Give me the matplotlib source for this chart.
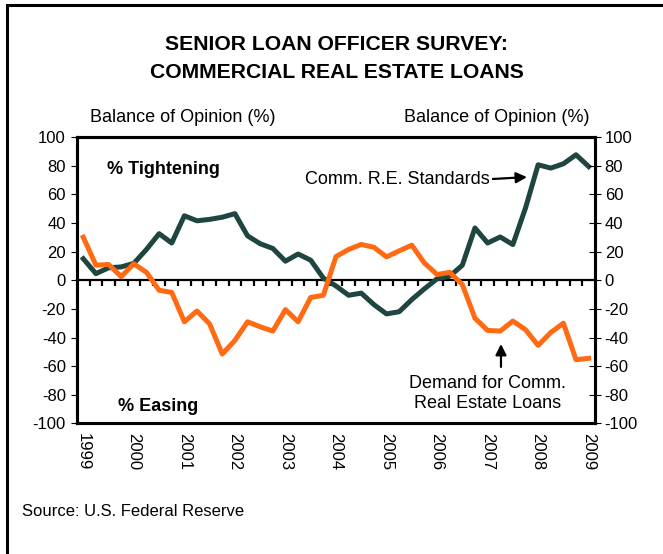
import matplotlib
matplotlib.use("Agg")
import matplotlib.pyplot as plt
import numpy as np
from matplotlib.patches import Rectangle

plt.rcParams['font.family'] = ['Liberation Sans', 'DejaVu Sans']
plt.rcParams['axes.unicode_minus'] = False

# --- datos (trimestrales, 1999 T1 - 2009 T1) ---
standards = [15, 4.6, 8.7, 9.3, 11.8, 21.5, 32.5, 26, 45, 41.5,
             42.5, 44, 46.5, 31, 25.5, 22.2, 13.3, 18.3, 14, 1.5,
             -4, -10.5, -9, -17, -23.5, -22, -13.5, -6, 1, 2.8,
             10.5, 36.5, 26, 30.2, 24.9, 50.4, 80.6, 78.3, 81.3, 87.6,
             79.4]
demand = [30, 10.5, 11, 2.5, 11.5, 5.5, -7, -8.5, -29, -21.5,
          -30.5, -51.5, -42, -29, -32.5, -35.5, -20.5, -29, -12, -10.5,
          16.5, 21.5, 25, 23, 16.3, 20.5, 24.5, 12, 4, 5.5,
          -3, -26.5, -35, -35.5, -28.5, -34.5, -45.5, -36.5, -30, -55.5,
          -54.5]
years = list(range(1999, 2010))
yticks = list(range(-100, 101, 20))

green = '#1f4540'
orange = '#ff6a13'

x = 1999 + np.arange(len(standards)) / 4.0

fig = plt.figure(figsize=(6.63, 5.54), dpi=100)
ax = fig.add_axes([0.1161, 0.2356, 0.7813, 0.5171])

ax.plot(x, standards, color=green, lw=3.6, zorder=3)
ax.plot(x, demand, color=orange, lw=3.6, zorder=4)

ax.set_xlim(1999 - 0.125, 2009 + 0.125)
ax.set_ylim(-100, 100)

for s in ax.spines.values():
    s.set_linewidth(2.2)

ax.set_yticks(yticks)
ax.tick_params(axis='y', labelsize=12, width=0.8, length=4, pad=4,
               direction='out')

# eje derecho (mismas escalas)
ax2 = ax.twinx()
ax2.set_ylim(-100, 100)
ax2.set_yticks(yticks)
ax2.tick_params(axis='y', labelsize=12, width=0.8, length=8, pad=3,
                direction='inout')
for s in ax2.spines.values():
    s.set_linewidth(2.2)

ax.set_xticks(years)
ax.set_xticklabels([str(y) for y in years], rotation=270, fontsize=12,
                   va='top', ha='center')
ax.tick_params(axis='x', length=0, pad=7)

# linea de cero con marcas trimestrales
sec = ax.secondary_xaxis(0.5)
sec.spines['top'].set_linewidth(1.6)
sec.set_xticks(1999.125 + np.arange(len(standards) - 1) / 4.0)
sec.tick_params(axis='x', direction='in', length=4, width=1.6,
                labeltop=False, labelbottom=False)

# textos
ax.text(0.058, 0.885, '% Tightening', transform=ax.transAxes, fontsize=13,
        fontweight='bold', ha='left', va='center')
ax.text(0.079, 0.061, '% Easing', transform=ax.transAxes, fontsize=13,
        fontweight='bold', ha='left', va='center')

ax.annotate('Comm. R.E. Standards', xy=(2007.78, 72), xytext=(2007.05, 70),
            fontsize=13, ha='right', va='center',
            arrowprops=dict(arrowstyle='-|>', color='black', lw=1.6,
                            mutation_scale=16, shrinkA=0, shrinkB=0,
                            relpos=(1, 0.55)))
ax.annotate('', xy=(2007.265, -44.5), xytext=(2007.265, -60.5),
            arrowprops=dict(arrowstyle='-|>', color='black', lw=1.6,
                            mutation_scale=16, shrinkA=0, shrinkB=0))
ax.text(2006.99, -79, 'Demand for Comm.\nReal Estate Loans', fontsize=13,
        ha='center', va='center', multialignment='center', linespacing=1.25)

fig.text(0.508, 1 - 45 / 554, 'SENIOR LOAN OFFICER SURVEY:', fontsize=15.2,
         fontweight='bold', ha='center', va='center')
fig.text(0.508, 1 - 72 / 554, 'COMMERCIAL REAL ESTATE LOANS', fontsize=15.2,
         fontweight='bold', ha='center', va='center')
fig.text(90 / 663, 1 - 117 / 554, 'Balance of Opinion (%)', fontsize=13,
         ha='left', va='center')
fig.text(590 / 663, 1 - 117 / 554, 'Balance of Opinion (%)', fontsize=13,
         ha='right', va='center')
fig.text(22 / 663, 1 - 512 / 554, 'Source: U.S. Federal Reserve', fontsize=12,
         ha='left', va='center')

# marco
fig.add_artist(Rectangle((7 / 663, -0.5), 2.0, 0.5 + 1 - 5 / 554,
                         transform=fig.transFigure, fill=False,
                         edgecolor='black', lw=2.2))

fig.savefig('out.png', dpi=100)
